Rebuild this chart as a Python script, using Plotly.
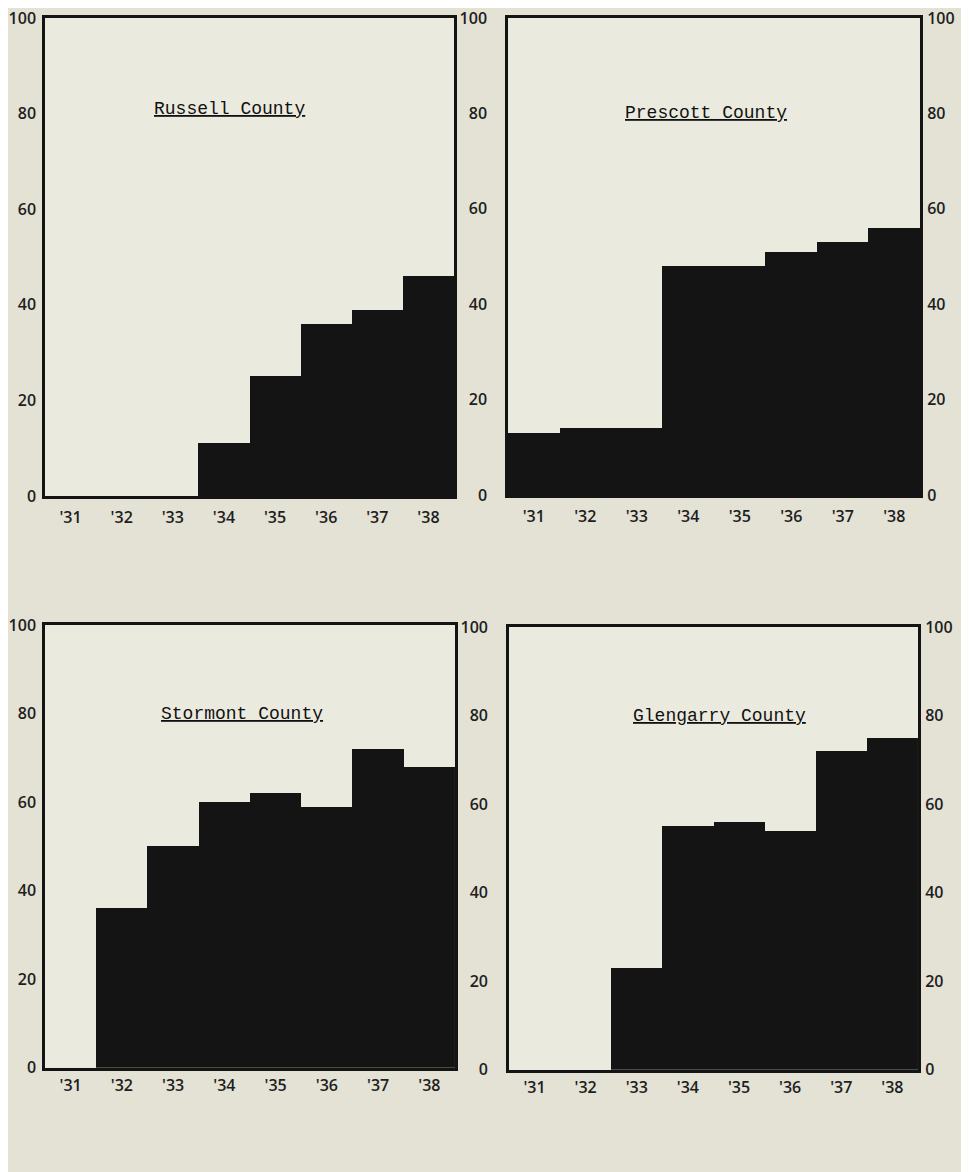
import plotly.graph_objects as go

years = ["'31", "'32", "'33", "'34", "'35", "'36", "'37", "'38"]
russell = [0, 0, 0, 11, 25, 36, 39, 46]
prescott = [13, 14, 14, 48, 48, 51, 53, 56]
stormont = [0, 36, 50, 60, 62, 59, 72, 68]
glengarry = [0, 0, 23, 55, 56, 54, 72, 75]
y_ticks = [0, 20, 40, 60, 80, 100]

# name, values, x-domain, y-domain, title x (domain frac), title y (data), right labels, x ticklen
panels = [
    ("Russell County", russell, [0.0385, 0.4641], [0.5808, 0.9914], 0.45, 81, False, 5),
    ("Prescott County", prescott, [0.5203, 0.9490], [0.5816, 0.9914], 0.48, 80, True, 5),
    ("Stormont County", stormont, [0.0385, 0.4651], [0.0895, 0.4699], 0.48, 80, False, 1),
    ("Glengarry County", glengarry, [0.5213, 0.9469], [0.0878, 0.4682], 0.515, 80, True, 1),
]

PAPER = "#e3e2d5"
PLOT = "#ebeadf"
INK = "#141414"
tickfont = dict(family="Open Sans", size=16, color="#1e1e1e", weight=600)

fig = go.Figure()
layout = {}
xs = list(range(len(years)))
for idx, (name, vals, xd, yd, tx, ty, right, xtl) in enumerate(panels):
    n = idx + 1
    xa = "x" if n == 1 else f"x{n}"
    ya_id = 2 * n - 1
    ya = "y" if ya_id == 1 else f"y{ya_id}"
    fig.add_trace(go.Bar(x=xs, y=vals, width=1.0, marker=dict(color=INK, line=dict(width=0)),
                         xaxis=xa, yaxis=ya, showlegend=False, hoverinfo="skip"))
    xkey = "xaxis" if n == 1 else f"xaxis{n}"
    ykey = "yaxis" if ya_id == 1 else f"yaxis{ya_id}"
    layout[xkey] = dict(domain=xd, anchor=ya, range=[-0.5, 7.5], tickvals=xs, ticktext=years,
                        showgrid=False, zeroline=False, showline=True, mirror=True,
                        linecolor=INK, linewidth=2.5, ticks="outside", ticklen=xtl,
                        tickcolor="rgba(0,0,0,0)", tickfont=tickfont, automargin=False,
                        ticklabeloverflow="allow", fixedrange=True)
    layout[ykey] = dict(domain=yd, anchor=xa, range=[0, 100], tickvals=y_ticks,
                        showgrid=False, zeroline=False, showline=True, mirror=True,
                        linecolor=INK, linewidth=2.5, ticks="outside",
                        ticklen=(3 if not right else 15), tickcolor="rgba(0,0,0,0)",
                        tickfont=tickfont, automargin=False, ticklabeloverflow="allow",
                        fixedrange=True)
    if right:
        y2 = f"y{ya_id + 1}"
        fig.add_trace(go.Bar(x=xs, y=[None] * len(xs), xaxis=xa, yaxis=y2,
                             showlegend=False, hoverinfo="skip"))
        layout[f"yaxis{ya_id + 1}"] = dict(domain=yd, anchor=xa, overlaying=ya, side="right",
                                          range=[0, 100], tickvals=y_ticks, showgrid=False,
                                          zeroline=False, showline=False, ticks="outside",
                                          ticklen=3, tickcolor="rgba(0,0,0,0)",
                                          tickfont=tickfont, automargin=False,
                                          ticklabeloverflow="allow", fixedrange=True)
    fig.add_annotation(text=name, xref=f"{xa} domain", yref=ya, x=tx, y=ty,
                       showarrow=False, xanchor="center", yanchor="middle",
                       font=dict(family="Liberation Mono", size=18, color="#111111",
                                 lineposition="under"))

fig.update_layout(width=961, height=1164, margin=dict(l=0, r=0, t=0, b=0),
                  paper_bgcolor=PAPER, plot_bgcolor=PLOT, bargap=0, barmode="overlay",
                  **layout)
fig.write_html("out.html")
